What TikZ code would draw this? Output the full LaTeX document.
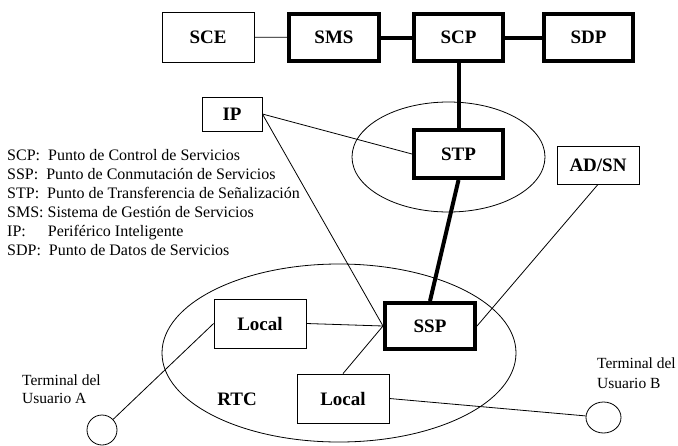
\documentclass[tikz,border=0pt]{standalone}
\usepackage{fontspec}
\setmainfont{Liberation Serif}
\usetikzlibrary{shapes.geometric, positioning}
\tikzset{
  caja/.style={draw, line width=0.8pt, fill=white, inner sep=0pt,
    font=\fontsize{19}{22}\selectfont\bfseries},
  cajagruesa/.style={caja, line width=4pt},
  enlace/.style={line width=0.8pt},
  troncal/.style={line width=4pt},
  terminal/.style={draw, line width=0.8pt, ellipse, inner sep=0pt},
  nota/.style={align=left, inner sep=0pt, font=\fontsize{15.5}{19}\selectfont}
}

\begin{document}
\begin{tikzpicture}[x=1pt, y=-1pt]
 \useasboundingbox (0,0) rectangle (678,445);
 % redes
 \draw[enlace] (448.5,157) ellipse [x radius=96.5pt, y radius=55pt];
 \draw[enlace] (339,353) ellipse [x radius=177pt, y radius=89pt];
 % nodos
 \node[caja, minimum width=92, minimum height=50] (sce) at (208,37) {SCE};
 \node[cajagruesa, minimum width=90, minimum height=47] (sms) at (334,37.5) {SMS};
 \node[cajagruesa, minimum width=89, minimum height=47] (scp) at (458.5,37.5) {SCP};
 \node[cajagruesa, minimum width=89, minimum height=47] (sdp) at (588.5,37.5) {SDP};
 \node[caja, minimum width=60, minimum height=34] (ip) at (232,114) {IP};
 \node[cajagruesa, minimum width=89, minimum height=48] (stp) at (458.5,154) {STP};
 \node[caja, minimum width=82, minimum height=38] (adsn) at (598,165) {AD/SN};
 \node[cajagruesa, minimum width=90, minimum height=46] (ssp) at (430,326) {SSP};
 \node[caja, minimum width=92, minimum height=49] (loc1) at (260,323.5) {Local};
 \node[caja, minimum width=92, minimum height=49] (loc2) at (343,398.5) {Local};
 \node[font=\fontsize{19}{22}\selectfont\bfseries, inner sep=0pt] (rtc) at (237,399) {RTC};
 \node[terminal, minimum width=30, minimum height=30] (termA) at (102,430) {};
 \node[terminal, minimum width=35, minimum height=31] (termB) at (603.5,417.5) {};
 \node[nota, font=\fontsize{15.5}{17.5}\selectfont, anchor=west] (txtA) at (22,389) {Terminal del\\Usuario A};
 \node[nota, font=\fontsize{15.5}{19.5}\selectfont, anchor=west] (txtB) at (597,373) {Terminal del\\Usuario B};
 \node[nota, font=\fontsize{16}{19}\selectfont, anchor=west] (leyenda) at (7,202.5) {%
   SCP:\ \ Punto de Control de Servicios\\
   SSP:\ \ Punto de Conmutación de Servicios\\
   STP:\ \ Punto de Transferencia de Señalización\\
   SMS: Sistema de Gestión de Servicios\\
   IP:\hspace{22pt}Periférico Inteligente\\
   SDP:\ \ Punto de Datos de Servicios};
 % conexiones
 \draw[enlace] (sce) -- (sms);
 \draw[troncal] (sms) -- (scp);
 \draw[troncal] (scp) -- (sdp);
 \draw[troncal] (scp) -- (stp);
 \draw[troncal] (stp.south) -- (ssp.north);
 \draw[enlace] (ip.east) -- (stp.west);
 \draw[enlace] (ip.east) -- (ssp.west);
 \draw[enlace] (loc1.east) -- (ssp.west);
 \draw[enlace] (loc2.north) -- (ssp.west);
 \draw[enlace] (ssp.east) -- (adsn.south);
 \draw[enlace] (loc1.west) -- (termA);
 \draw[enlace] (loc2.east) -- (termB);
\end{tikzpicture}
\end{document}
